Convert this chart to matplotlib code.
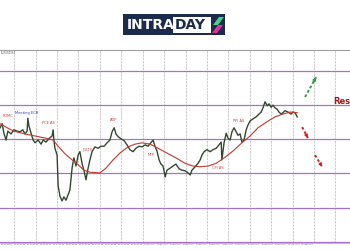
import numpy as np
import matplotlib
matplotlib.use('Agg')
import matplotlib.pyplot as plt
from matplotlib.patches import Rectangle, Polygon

# price path (bar index, close)
bars = [0, 0.6, 1.1, 1.7, 2.2, 3.1, 3.9, 4.8, 5.6, 6.4, 7.0, 7.6, 7.8, 8.1, 8.7, 9.3, 9.8,
        10.7, 11.5, 12.1, 12.9, 13.7, 14.6, 14.9, 15.1, 15.4, 16.0, 16.3, 16.8, 17.4, 17.9,
        18.5, 19.1, 19.6, 20.2, 20.7, 21.3, 21.9, 22.4, 23.0, 23.5, 24.1, 24.7, 25.2, 25.8,
        26.6, 27.5, 28.3, 29.2, 30.0, 30.8, 31.4, 32.0, 32.5, 33.1, 33.9, 34.8, 35.6, 36.4,
        37.3, 38.1, 39.0, 39.8, 40.7, 41.5, 42.3, 42.9, 43.5, 44.0, 44.6, 45.1, 45.7, 46.3,
        46.8, 47.7, 48.5, 49.3, 50.2, 51.0, 51.9, 52.7, 53.3, 53.8, 54.7, 55.5, 56.1, 56.6,
        57.2, 58.0, 58.9, 59.7, 60.6, 61.4, 62.0, 62.2, 62.8, 63.4, 63.9, 64.5, 65.0, 65.6,
        66.2, 66.7, 67.3, 67.8, 68.4, 69.0, 69.5, 70.1, 70.9, 71.8, 72.6, 73.2, 73.7, 74.3,
        74.9, 75.4, 76.0, 76.5, 77.1, 77.7, 78.2, 78.8, 79.3, 79.9, 80.7, 81.6, 82.1, 82.7, 83.3]
close = [1.0867, 1.0873, 1.0859, 1.0849, 1.0862, 1.0858, 1.0864, 1.0862, 1.0861, 1.0864,
         1.0858, 1.0862, 1.0881, 1.0870, 1.0859, 1.0849, 1.0845, 1.0849, 1.0843, 1.0849,
         1.0846, 1.0851, 1.0855, 1.0864, 1.0849, 1.0837, 1.0827, 1.0782, 1.0767, 1.0760,
         1.0766, 1.0761, 1.0769, 1.0776, 1.0808, 1.0823, 1.0811, 1.0827, 1.0832, 1.0815,
         1.0805, 1.0791, 1.0808, 1.0820, 1.0832, 1.0839, 1.0837, 1.0840, 1.0840, 1.0845,
         1.0849, 1.0861, 1.0867, 1.0858, 1.0854, 1.0851, 1.0848, 1.0842, 1.0835, 1.0832,
         1.0837, 1.0840, 1.0839, 1.0842, 1.0840, 1.0845, 1.0849, 1.0839, 1.0833, 1.0820,
         1.0814, 1.0811, 1.0795, 1.0805, 1.0808, 1.0811, 1.0814, 1.0807, 1.0805, 1.0804,
         1.0801, 1.0798, 1.0805, 1.0810, 1.0815, 1.0820, 1.0827, 1.0832, 1.0835, 1.0832,
         1.0835, 1.0837, 1.0842, 1.0846, 1.0820, 1.0845, 1.0859, 1.0852, 1.0849, 1.0861,
         1.0867, 1.0861, 1.0856, 1.0858, 1.0846, 1.0849, 1.0864, 1.0871, 1.0877, 1.0880,
         1.0883, 1.0887, 1.0890, 1.0896, 1.0905, 1.0899, 1.0902, 1.0897, 1.0900, 1.0896,
         1.0894, 1.0890, 1.0887, 1.0889, 1.0892, 1.0890, 1.0887, 1.0890, 1.0889, 1.0883]

# moving average
ma_bars = [0, 2.0, 3.9, 7.0, 9.8, 12.6, 14.9, 16.3, 18.2, 20.2, 21.9, 23.5, 25.2, 28.0, 29.7,
           31.7, 33.6, 35.9, 37.8, 39.8, 42.1, 44.3, 46.8, 49.3, 51.9, 54.1, 56.1, 58.3, 60.6,
           63.1, 65.3, 67.8, 70.1, 72.3, 74.6, 77.1, 79.3, 81.3, 83.3]
ma = [1.0873, 1.0867, 1.0862, 1.0858, 1.0855, 1.0852, 1.0849, 1.0840, 1.0829, 1.0820, 1.0813,
      1.0805, 1.0802, 1.0801, 1.0808, 1.0820, 1.0830, 1.0839, 1.0843, 1.0845, 1.0843, 1.0837,
      1.0830, 1.0823, 1.0815, 1.0811, 1.0810, 1.0811, 1.0815, 1.0824, 1.0833, 1.0845, 1.0855,
      1.0867, 1.0875, 1.0883, 1.0887, 1.0890, 1.0889]

levels = [1.0950, 1.0900, 1.0851, 1.0801, 1.0750, 1.0700]

events = ['FOMC', 'Meeting ECB', 'PCE AS', 'JOLTS', 'ADP', 'NFP', 'CPI AS', 'PPI AS']
event_bar = [0.6, 4.2, 11.8, 23.0, 30.8, 41.5, 59.4, 65.3]
event_price = [1.0881, 1.0886, 1.0871, 1.0832, 1.0875, 1.0824, 1.0805, 1.0874]

date_labels = ['23 Jan 2024', '23 Jan 12:00', '24 Jan 04:00', '24 Jan 20:00', '25 Jan 12:00',
               '26 Jan 04:00', '26 Jan 20:00', '29 Jan 12:00', '30 Jan 04:00', '30 Jan 20:00',
               '31 Jan 12:00', '1 Feb 04:00', '1 Feb 20:00', '2 Feb 12:00', '5 Feb 04:00',
               '5 Feb 20:00', '6 Feb 12:00', '7 Feb 04:00', '7 Feb 20:00', '8 Feb 12:00',
               '9 Feb 04:00', '9 Feb 20:00', '12 Feb 12:00', '13 Feb 04:00']

fig = plt.figure(figsize=(3.5, 2.5), dpi=100)
fig.patch.set_facecolor('white')
ax = fig.add_axes([0, 0.028, 1, 0.772])
ax.set_xlim(0, 98.1)
ax.set_ylim(1.06985, 1.09807)

# vertical grid
for gx in np.arange(4.0, 98, 6.0):
    ax.axvline(gx, color='#c4c4c4', lw=0.6, ls=(0, (3, 1)), zorder=0)

for lv in levels:
    ax.axhline(lv, color='#a673cc', lw=0.9, zorder=1)

ax.plot(bars, close, color='#33472f', lw=1.0, zorder=3)
ax.plot(ma_bars, ma, color='#c0392b', lw=0.8, zorder=4)

for name, bx, py in zip(events, event_bar, event_price):
    col = '#3040c0' if name == 'Meeting ECB' else '#d03a3a'
    ax.text(bx, py, name, fontsize=2.6, color=col, ha='left', va='bottom', zorder=5)

ax.text(98.1, 1.0906, 'Res', fontsize=6, fontweight='bold', color='#a01818',
        ha='right', va='center')

# scenario arrows: dashed shaft + solid head
def scenario(x0, y0, x1, y1, col):
    ax.plot([x0, x1], [y0, y1], color=col, lw=1.4, ls=(0, (1.4, 1.2)), zorder=5)
    hx = x1 - (x1 - x0) * 0.25
    hy = y1 - (y1 - y0) * 0.25
    ax.annotate('', xy=(x1, y1), xytext=(hx, hy), zorder=6,
                arrowprops=dict(arrowstyle='-|>', color=col, lw=0.8,
                                mutation_scale=5, shrinkA=0, shrinkB=0))

scenario(85.5, 1.0912, 88.6, 1.0941, '#2e9e3e')
scenario(84.7, 1.0868, 86.3, 1.0852, '#d82020')
scenario(88.3, 1.0827, 90.3, 1.0810, '#d82020')

ax.set_xticks(np.arange(0.3, 0.3 + 3.65 * len(date_labels), 3.65))
ax.set_xticklabels(date_labels, fontsize=1.3, color='#555555', ha='left')
ax.tick_params(axis='x', length=0, pad=0.8)
ax.set_yticks([])
for s in ['left', 'right']:
    ax.spines[s].set_visible(False)
ax.spines['top'].set_color('#a0a0a0')
ax.spines['top'].set_linewidth(0.8)
ax.spines['bottom'].set_color('#b0b0b0')
ax.spines['bottom'].set_linewidth(0.6)
ax.text(0.003, 0.995, 'EURUSD,H4', transform=ax.transAxes, fontsize=1.8, color='#555555',
        ha='left', va='top')

# logo
def px(x, y):
    return (x / 350, 1 - y / 250)

fig.patches.append(Rectangle(px(123, 35), 102 / 350, 21 / 250, transform=fig.transFigure,
                             facecolor='#1c2a4c', edgecolor='none'))
fig.patches.append(Rectangle(px(173, 32.5), 38 / 350, 16 / 250, transform=fig.transFigure,
                             facecolor='white', edgecolor='none'))
fig.text(*px(126.5, 25), 'INTRA', fontsize=10, fontweight='bold', color='white',
         ha='left', va='center', family='DejaVu Sans')
fig.text(*px(174.5, 25), 'DAY', fontsize=10, fontweight='bold', color='#1c2a4c',
         ha='left', va='center', family='DejaVu Sans')
fig.patches.append(Polygon([px(213, 25), px(219, 17), px(224, 17), px(218, 25)], closed=True,
                           transform=fig.transFigure, facecolor='#45d08a', edgecolor='none'))
fig.patches.append(Polygon([px(212, 33), px(218, 25), px(223, 25), px(217, 33)], closed=True,
                           transform=fig.transFigure, facecolor='#e0309a', edgecolor='none'))

fig.savefig('out.png', dpi=100)
